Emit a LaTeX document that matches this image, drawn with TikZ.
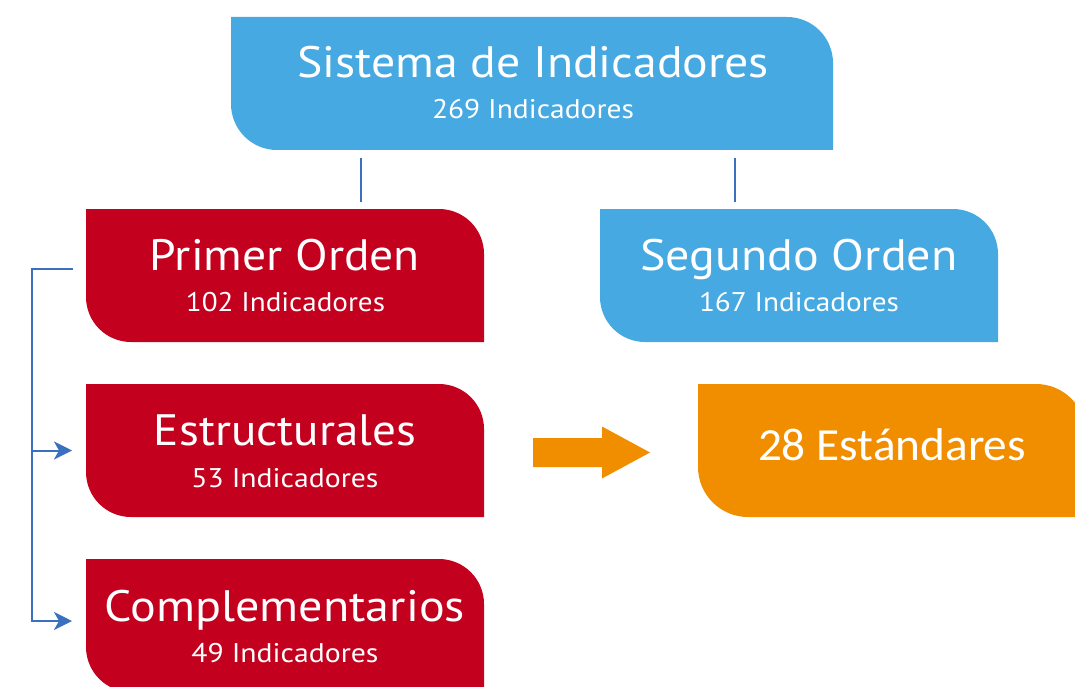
\documentclass[tikz,border=0pt]{standalone}
\usepackage{fontspec}
\usepackage{graphicx}
\setmainfont{PT Sans}
\newfontfamily\calib{Carlito}
\usetikzlibrary{arrows.meta,backgrounds,calc}
\definecolor{cblue}{HTML}{46A9E1}
\definecolor{cred}{HTML}{C3001E}
\definecolor{corange}{HTML}{F08E00}
\definecolor{cline}{HTML}{3B70BE}
\newcommand\fitw[2]{\resizebox{#1pt}{\height}{#2}}
\newcommand\blobfill[3]{%
  \fill[#2] (#1.north west) -- ([xshift=-#3pt]#1.north east)
    arc[start angle=90,end angle=0,radius=#3pt] -- (#1.south east)
    -- ([xshift=#3pt]#1.south west)
    arc[start angle=270,end angle=180,radius=#3pt] -- cycle;}
\begin{document}
\begin{tikzpicture}[x=1pt,y=1pt,
  boxnode/.style={inner sep=0pt,outer sep=0pt,minimum height=133pt},
  ttl/.style={anchor=base,inner sep=0pt,text=white,font=\fontsize{44}{44}\selectfont},
  sub/.style={anchor=base,inner sep=0pt,text=white,font=\fontsize{27}{27}\selectfont},
  std/.style={anchor=base,inner sep=0pt,text=white,font=\calib\fontsize{46}{46}\selectfont},
  conn/.style={draw=cline,line width=2pt},
  arrowtip/.style={-{Stealth[length=18pt,width=18pt,inset=5pt]}}]
\useasboundingbox (0,0) rectangle (1075,-687);
\clip (0,0) rectangle (1075,-687);

\node[boxnode,minimum width=602pt] (top) at (532,-83.5) {};
\node[boxnode,minimum width=398pt] (primer) at (285,-275.5) {};
\node[boxnode,minimum width=398pt] (segundo) at (799,-275.5) {};
\node[boxnode,minimum width=398pt] (estr) at (285,-450.5) {};
\node[boxnode,minimum width=398pt] (compl) at (285,-625.5) {};
\node[boxnode,minimum width=388pt] (stdb) at (892,-450.5) {};

\begin{pgfonlayer}{background}
\blobfill{top}{cblue}{46}
\blobfill{primer}{cred}{45}
\blobfill{segundo}{cblue}{45}
\blobfill{estr}{cred}{45}
\blobfill{compl}{cred}{45}
\blobfill{stdb}{corange}{50}
\end{pgfonlayer}

\node[ttl] (topt) at ($(top.north)+(1,-61)$) {\fitw{472}{Sistema de Indicadores}};
\node[sub] (tops) at ($(top.north)+(1,-102)$) {\fitw{202}{269 Indicadores}};
\node[ttl] (primert) at ($(primer.north)+(0,-61)$) {\fitw{270}{Primer Orden}};
\node[sub] (primers) at ($(primer.north)+(0.5,-102)$) {\fitw{199}{102 Indicadores}};
\node[ttl] (segt) at ($(segundo.north)+(0,-61)$) {\fitw{317}{Segundo Orden}};
\node[sub] (segs) at ($(segundo.north)+(0,-102)$) {\fitw{200}{167 Indicadores}};
\node[ttl] (estrt) at ($(estr.north)+(0,-61)$) {\fitw{262}{Estructurales}};
\node[sub] (estrs) at ($(estr.north)+(0,-103)$) {\fitw{187}{53 Indicadores}};
\node[ttl] (complt) at ($(compl.north)+(0,-62)$) {\fitw{360}{Complementarios}};
\node[sub] (compls) at ($(compl.north)+(0,-103)$) {\fitw{187}{49 Indicadores}};
\node[std] (stdt) at ($(stdb.north)+(0,-76)$) {\fitw{268}{28 Estándares}};

% connectors
\draw[conn] ($(top.south)+(-171,-8)$) -- ($(primer.north)+(76,7)$);
\draw[conn] ($(top.south)+(203,-8)$) -- ($(segundo.north)+(-64,7)$);
\coordinate (bk) at ($(primer.west)+(-54,6.5)$);
\draw[conn,arrowtip] ($(primer.west)+(-13,6.5)$) -- (bk) |- ($(compl.west)+(-14,4.5)$);
\draw[conn,arrowtip] (bk |- estr.west) -- ($(estr.west)+(-14,0)$);

% orange block arrow
\coordinate (oa) at ($(estr.east)+(49,-2)$);
\fill[corange] ($(oa)+(0,14.5)$) -- ($(oa)+(69,14.5)$) -- ($(oa)+(69,26)$)
  -- ($(oa)+(117,0)$) -- ($(oa)+(69,-26)$) -- ($(oa)+(69,-14.5)$)
  -- ($(oa)+(0,-14.5)$) -- cycle;
\end{tikzpicture}
\end{document}
